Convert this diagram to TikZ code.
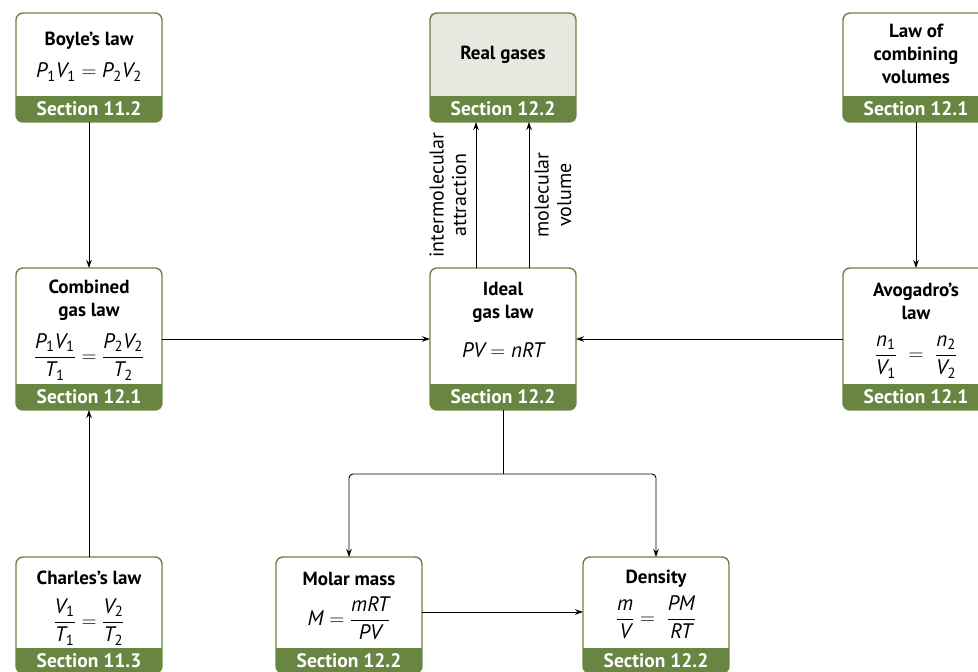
\documentclass[tikz,border=0pt]{standalone}
\usepackage{amsmath}
\usepackage{fontspec}
\setmainfont{PT Sans}
\usetikzlibrary{arrows.meta}
\definecolor{gg}{RGB}{104,133,66}
\definecolor{rg}{RGB}{232,231,224}
\newcommand\iv[1]{\text{\itshape #1}}
\newcommand\dg[1]{\text{#1}}
\newcommand\gbox[8]{%
 \node[anchorbox, fill=#7, minimum width={#4-#2}, minimum height={#5-#3}] (#1) at ({(#2+#4)/2},{(#3+#5)/2}) {};
 \begin{scope}
  \clip[rounded corners=7] (#2,#3) rectangle (#4,#5);
  \fill[gg] (#2,#6) rectangle (#4,#5);
 \end{scope}
 \draw[gg, line width=1.4, rounded corners=7] (#2,#3) rectangle (#4,#5);
 \node[sect] (#1s) at ({(#2+#4)/2},{(#6+#5)/2}) {#8};
}
\tikzset{
 anchorbox/.style={rectangle, inner sep=0, outer sep=0, draw=none},
 sect/.style={text=white, font=\bfseries\fontsize{19.5}{22}\selectfont, inner sep=0},
 ttl/.style={font=\bfseries\fontsize{19}{23}\selectfont, align=center, inner sep=0},
 eq/.style={font=\fontsize{21}{24}\selectfont, inner sep=0},
 lbl/.style={font=\fontsize{20}{22.5}\selectfont, align=center, rotate=90, inner sep=0},
 arr/.style={line width=0.9, -{Stealth[length=8pt,width=5.5pt]}},
 ln/.style={line width=0.9}
}
\begin{document}
\begin{tikzpicture}[x=1pt,y=-1pt]
\useasboundingbox (0,0) rectangle (978,672);
\clip (0,0) rectangle (978,672);
% boxes
\gbox{boyle}{16}{13}{162}{122}{96}{white}{Section 11.2}
\gbox{real}{430}{13}{576}{122}{96}{rg}{Section 12.2}
\gbox{comb}{843}{13}{989}{122}{96}{white}{Section 12.1}
\gbox{cgl}{16}{268}{162}{410}{384}{white}{Section 12.1}
\gbox{ideal}{430}{268}{576}{410}{384}{white}{Section 12.2}
\gbox{avo}{843}{268}{989}{410}{384}{white}{Section 12.1}
\gbox{charles}{16}{557}{162}{673}{648}{white}{Section 11.3}
\gbox{molar}{276}{557}{422}{673}{648}{white}{Section 12.2}
\gbox{dens}{583}{557}{729}{673}{648}{white}{Section 12.2}
% contents
\node[ttl] (t1) at (89,41) {Boyle’s law};
\node[eq] (e1) at (89,72) {$\iv{P}_{\dg{1}}\iv{V}_{\dg{1}} = \iv{P}_{\dg{2}}\iv{V}_{\dg{2}}$};
\node[ttl] (t2) at (503,55) {Real gases};
\node[ttl] (t3) at (916,54) {Law of\\combining\\volumes};
\node[ttl] (t4) at (89,300) {Combined\\gas law};
\node[eq] (e4) at (89,357) {$\dfrac{\iv{P}_{\dg{1}}\iv{V}_{\dg{1}}}{\iv{T}_{\dg{1}}} = \dfrac{\iv{P}_{\dg{2}}\iv{V}_{\dg{2}}}{\iv{T}_{\dg{2}}}$};
\node[ttl] (t5) at (503,302) {Ideal\\gas law};
\node[eq] (e5) at (503,350) {$\iv{PV} = \iv{nRT}$};
\node[ttl] (t6) at (916,301) {Avogadro’s\\law};
\node[eq] (e6) at (916,357) {$\dfrac{\iv{n}_{\dg{1}}}{\iv{V}_{\dg{1}}} \;=\; \dfrac{\iv{n}_{\dg{2}}}{\iv{V}_{\dg{2}}}$};
\node[ttl] (t7) at (89,578) {Charles’s law};
\node[eq] (e7) at (89,622) {$\dfrac{\iv{V}_{\dg{1}}}{\iv{T}_{\dg{1}}} = \dfrac{\iv{V}_{\dg{2}}}{\iv{T}_{\dg{2}}}$};
\node[ttl] (t8) at (349,579) {Molar mass};
\node[eq] (e8) at (349,618) {$\iv{M} = \dfrac{\iv{mRT}}{\iv{PV}}$};
\node[ttl] (t9) at (656,579) {Density};
\node[eq] (e9) at (656,617) {$\dfrac{\iv{m}}{\iv{V}} = \;\dfrac{\iv{PM}}{\iv{RT}}$};
% labels
\node[lbl] (l1) at (448,195) {intermolecular\\attraction};
\node[lbl] (l2) at (553,195) {molecular\\volume};
% connectors
\draw[arr] (boyle.south) -- (cgl.north);
\draw[arr] (comb.south) -- (avo.north);
\draw[arr] (charles.north) -- (cgl.south);
\draw[arr] (cgl.east) -- (ideal.west);
\draw[arr] (avo.west) -- (ideal.east);
\draw[arr] ([xshift=-27pt]ideal.north) -- ([xshift=-27pt]real.south);
\draw[arr] ([xshift=26pt]ideal.north) -- ([xshift=26pt]real.south);
\coordinate (split) at (503,474);
\draw[ln] (ideal.south) -- (split);
\draw[arr, rounded corners=4] (split) -| (molar.north);
\draw[arr, rounded corners=4] (split) -| (dens.north);
\draw[arr] (molar.east |- 0,612) -- (dens.west |- 0,612);
\end{tikzpicture}
\end{document}
